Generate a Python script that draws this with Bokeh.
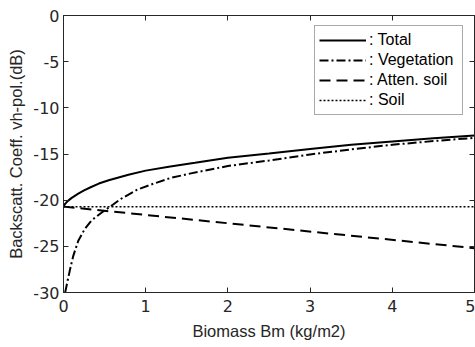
from bokeh.plotting import figure
from bokeh.models import (Range1d, LinearAxis, Legend, LegendItem, FixedTicker,
                          CustomLabelingPolicy)
from bokeh.embed import file_html
from bokeh.resources import INLINE

# Backscatter components (dB) versus biomass (kg/m2)
total_b = [0.0, 0.02, 0.05, 0.1, 0.18, 0.25, 0.33, 0.43, 0.55, 0.67, 0.79, 1.0, 1.3, 1.6, 2.0,
           2.5, 3.0, 3.5, 4.0, 4.5, 5.0]
total_db = [-20.7, -20.4, -20.1, -19.75, -19.3, -18.95, -18.6, -18.2, -17.85, -17.55, -17.25,
            -16.8, -16.35, -15.95, -15.4, -14.95, -14.45, -14.0, -13.65, -13.3, -13.0]

veg_b = [0.02, 0.06, 0.09, 0.12, 0.18, 0.26, 0.34, 0.47, 0.6, 0.7, 0.9, 1.1, 1.3, 1.55, 2.0,
         2.5, 3.0, 3.5, 4.0, 4.5, 5.0]
veg_db = [-30.0, -28.3, -27.1, -26.0, -24.4, -23.1, -22.2, -21.3, -20.5, -19.85, -18.85, -18.2,
          -17.6, -17.1, -16.3, -15.7, -15.05, -14.5, -14.0, -13.6, -13.25]

atten_b = [0.0, 5.0]
atten_db = [-20.7, -25.2]

soil_b = [0.0, 5.0]
soil_db = [-20.7, -20.7]

x_ticks = [0, 1, 2, 3, 4, 5]
y_ticks = [-30, -25, -20, -15, -10, -5, 0]

AX = "#262626"
FONT = "Liberation Sans"
TICK_FONT = "DejaVu Sans"

p = figure(width=475, height=347, output_backend="svg", toolbar_location=None,
           x_range=Range1d(0, 5), y_range=Range1d(-30, 0),
           min_border_left=63, min_border_right=1, min_border_top=15, min_border_bottom=55)
p.grid.visible = False
p.outline_line_color = AX
p.outline_line_width = 1
p.background_fill_color = "white"
p.border_fill_color = "white"

def style_axis(ax, ticks, labels=True):
    ax.ticker = FixedTicker(ticks=ticks)
    ax.major_label_overrides = {t: (str(t) if labels else "") for t in ticks}
    ax.minor_tick_line_color = None
    ax.major_tick_in = 5
    ax.major_tick_out = 0
    ax.axis_line_color = AX
    ax.major_tick_line_color = AX
    ax.major_label_text_color = AX
    ax.major_label_text_font = TICK_FONT
    ax.major_label_text_font_size = "16px"
    ax.axis_label_text_font = FONT
    ax.axis_label_text_font_size = "16.5px"
    ax.axis_label_text_font_style = "normal"
    ax.axis_label_text_color = AX

style_axis(p.xaxis[0], x_ticks)
style_axis(p.yaxis[0], y_ticks)
p.xaxis[0].axis_label = "Biomass Bm (kg/m2)"
p.yaxis[0].axis_label = "Backscatt. Coeff. vh-pol.(dB)"
p.xaxis[0].major_label_standoff = 7
p.xaxis[0].axis_label_standoff = 7
p.yaxis[0].major_label_standoff = 4
p.yaxis[0].axis_label_standoff = 5

# box-style tick marks on the top and right edges, no labels there
for side, ticks in (("above", x_ticks), ("right", y_ticks)):
    ax = LinearAxis()
    style_axis(ax, ticks, labels=False)
    ax.major_label_policy = CustomLabelingPolicy(code="return []")
    ax.major_label_standoff = 0
    p.add_layout(ax, side)

r_total = p.line(total_b, total_db, line_color="black", line_width=2)
r_veg = p.line(veg_b, veg_db, line_color="black", line_width=2, line_dash="9 3 2 3")
r_att = p.line(atten_b, atten_db, line_color="black", line_width=2, line_dash="11 6")
r_soil = p.line(soil_b, soil_db, line_color="black", line_width=1.5, line_dash="2 2")

legend = Legend(items=[
    LegendItem(label=": Total", renderers=[r_total]),
    LegendItem(label=": Vegetation", renderers=[r_veg]),
    LegendItem(label=": Atten. soil", renderers=[r_att]),
    LegendItem(label=": Soil", renderers=[r_soil]),
], location=(251, 177))
legend.label_text_font = FONT
legend.label_text_font_size = "16px"
legend.label_text_color = "black"
legend.glyph_width = 47
legend.glyph_height = 20
legend.label_height = 20
legend.label_width = 89
legend.label_standoff = 3
legend.spacing = 0
legend.padding = 4
legend.margin = 0
legend.border_line_color = "#555555"
legend.border_line_width = 1
legend.background_fill_color = "white"
legend.background_fill_alpha = 1
p.add_layout(legend, "center")

open("out.html", "w").write(file_html(p, INLINE))
